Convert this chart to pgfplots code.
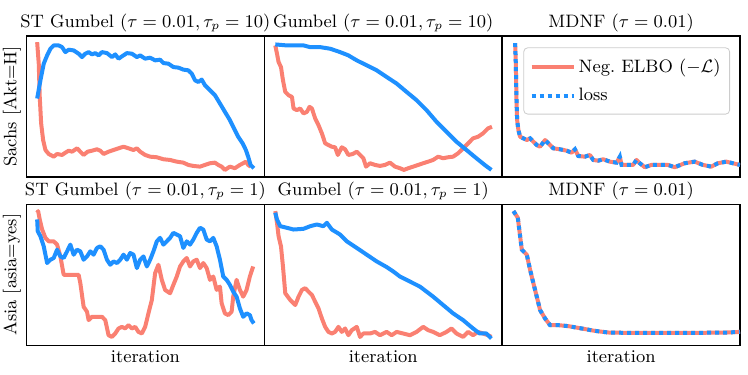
\documentclass[border=0pt]{standalone}
\usepackage{pgfplots}
\pgfplotsset{compat=1.18}
\usepgfplotslibrary{groupplots}

\definecolor{salmon}{RGB}{250,128,114}
\definecolor{dblue}{RGB}{30,144,255}

\pgfplotsset{
  panel/.style={
    width=119pt, height=70.5pt, scale only axis,
    xmin=0, xmax=238.5, ymin=0,
    xtick=\empty, ytick=\empty,
    axis line style={black, line width=0.7pt},
    every axis title/.style={at={(0.5,1)}, anchor=base, yshift=4.3pt},
    every axis x label/.style={at={(0.5,0)}, anchor=base, yshift=-8.8pt},
    every axis y label/.style={at={(0,0.5)}, anchor=base, rotate=90, yshift=5pt},
  },
  elbo/.style={salmon, line width=2pt, line join=round, no marks},
  loss/.style={dblue, line width=2pt, line join=round, no marks},
  lossdot/.style={dblue, line width=2pt, no marks, dash pattern=on 2pt off 2pt},
}

\begin{document}
\fontsize{9}{11}\selectfont
\begin{tikzpicture}
\begin{groupplot}[
  group style={group size=3 by 2, horizontal sep=0pt, vertical sep=13.75pt, group name=G},
  panel]

% row 1, column 1
\nextgroupplot[ymax=141.5, title={ST Gumbel ($\tau=0.01, \tau_p=10$)}, ylabel={Sachs [Akt=H]}]
\addplot[elbo] coordinates {
(10.7,135.3) (12.3,113.7) (13.3,80.3) (14.7,53.7) (16.7,37) (19,27) (22.3,23)
(27.3,20.3) (30.7,23) (35.7,22) (39,24.3) (42.3,26.3) (45.7,25.3) (50.7,28.7)
(54,25.3) (57.3,22) (61.3,25.3) (65.7,26.3) (70.7,27.7) (74,26.3) (77.3,23)
(82.3,25.3) (87.3,27) (92.3,28.7) (97.3,30.3) (102.3,28.7) (107.3,27) (110.7,28.7)
(114,25.3) (119,22) (124,20.3) (130.7,19.7) (137.3,17.7) (144,17) (150.7,15.3)
(157.3,14.3) (162.3,12) (167.3,11) (174,10.3) (179,12) (184,13.7) (189,14.3)
(192.3,12) (195.7,10.3) (199,7) (204,10.3) (209,8.7) (214,12) (217.3,13.7)
(220,15.3) (222.3,12) (224.7,10.3)};
\addplot[loss] coordinates {
(10.7,78.7) (14,97) (17.3,113.7) (20.7,122) (24,128.7) (27.3,132) (32.3,132)
(35.7,130.3) (39,125.3) (42.3,127.7) (47.3,127) (52.3,123.7) (55.7,120.3) (59,123.7)
(62.3,125.3) (65.7,123) (69,124.3) (72.3,122) (75.7,125.3) (80.7,124.3) (85.7,120.3)
(89,123) (92.3,118.7) (95.7,121) (100.7,124.3) (105.7,123.7) (110.7,120.3) (114,122)
(119,118.7) (124,119.7) (129,117) (134,117.7) (137.3,114.3) (142.3,113.7) (147.3,110.3)
(152.3,109.7) (157.3,107.7) (162.3,107) (165.7,103.7) (169,97) (172.3,95.3) (175.7,97.7)
(179,92) (184,87) (189,82) (194,73.7) (199,65.3) (204,57) (207.3,50.3) (212.3,40.3)
(216.7,33.7) (220,27) (222.3,20.3) (224.7,12) (228,8.7)};

% row 1, column 2
\nextgroupplot[ymax=141.5, title={Gumbel ($\tau=0.01, \tau_p=10$)}]
\addplot[elbo] coordinates {
(11,132) (12.7,123.7) (14.3,115.3) (16.7,110.3) (18.7,97) (21,85.3) (24.3,82)
(27.7,80.3) (29.3,68.7) (32.7,67) (36,68.7) (39.3,63.7) (42.7,65.3) (45.3,70.3)
(47.7,68.7) (51,58.7) (54.3,52) (57.7,43.7) (61,33.7) (64.3,32) (67.7,30.3)
(71,29.7) (73.7,22) (77.7,29.7) (81,27.7) (84.3,22) (88.7,23) (92.7,25.3)
(96,22) (99.3,18.7) (102,10.3) (106,13.7) (111,12) (116,11) (121,12) (126,14.3)
(131,10.3) (136,8.7) (140,7) (144.3,8.7) (149.3,10.3) (154.3,12) (159.3,13.7)
(164.3,15.3) (169.3,17) (174.3,20.3) (179.3,18.7) (184.3,19.7) (189.3,20.3)
(194.3,23.7) (197.7,27) (202.7,32) (209.3,38.7) (214.3,40.3) (219.3,43.7)
(224.3,48.7) (228.3,50.3)};
\addplot[loss] coordinates {
(11,133) (22.7,132) (39.3,132) (46,130.3) (56,130.3) (66,128.7) (76,125.3)
(84.3,122) (92.7,117) (102.7,112) (112.7,107) (122.7,100.3) (132.7,93.7)
(142.7,85.3) (152.7,77) (162.7,67) (172.7,55.3) (182.7,45.3) (192.7,35.3)
(202.7,27) (212.7,18.7) (221,12) (227.7,7)};

% row 1, column 3
\nextgroupplot[ymax=141.5, title={MDNF ($\tau=0.01$)},
  legend style={at={(0.958,0.919)}, anchor=north east, draw=black!20,
    rounded corners=2pt, fill=white, inner xsep=3pt, inner ysep=4pt,
    row sep=3.5pt, nodes={inner sep=1.5pt}},
  legend cell align=left,
  legend image code/.code={\draw[#1] (0pt,0pt) -- (21pt,0pt);}]
\addplot[elbo] coordinates {
(13,134.3) (13.7,113.7) (14.3,80.3) (15,57) (16.3,47) (18,40.3) (21.3,38.7)
(24.7,37) (28,38.7) (31.3,35.3) (34.7,32) (38,30.3) (43,37) (46.3,33.7)
(51.3,28.7) (58,27.7) (64.7,26.3) (69.7,24.3) (73,27.7) (76.3,21) (83,20.3)
(88,22) (91.3,17) (96.3,16.3) (101.3,17.7) (108,15.3) (114.7,14.3) (118,20.3)
(119.7,12) (126.3,12) (131.3,12) (134.7,17) (138,13.7) (143,9.7) (149.7,12)
(159.7,12) (166.3,12) (173,9.7) (183,13.7) (193,15.3) (201.3,12) (209.7,10.3)
(216.3,13.7) (224.7,15.3) (231.3,13.7) (238.5,12)};
\addlegendentry{Neg.\ ELBO ($-\mathcal{L}$)}
\addplot[lossdot] coordinates {
(13,134.3) (13.7,113.7) (14.3,80.3) (15,57) (16.3,47) (18,40.3) (21.3,38.7)
(24.7,37) (28,38.7) (31.3,35.3) (34.7,32) (38,30.3) (43,37) (46.3,33.7)
(51.3,28.7) (58,27.7) (64.7,26.3) (69.7,24.3) (73,27.7) (76.3,21) (83,20.3)
(88,22) (91.3,17) (96.3,16.3) (101.3,17.7) (108,15.3) (114.7,14.3) (118,20.3)
(119.7,12) (126.3,12) (131.3,12) (134.7,17) (138,13.7) (143,9.7) (149.7,12)
(159.7,12) (166.3,12) (173,9.7) (183,13.7) (193,15.3) (201.3,12) (209.7,10.3)
(216.3,13.7) (224.7,15.3) (231.3,13.7) (238.5,12)};
\addlegendentry{loss}

% row 2, column 1
\nextgroupplot[ymax=140, title={ST Gumbel ($\tau=0.01, \tau_p=1$)}, ylabel={Asia [asia=yes]}, xlabel={iteration}]
\addplot[elbo] coordinates {
(10.7,131.7) (11.7,133.3) (13.3,125) (15.7,115) (19,106.7) (22.3,103.3) (27.3,103.3)
(30.7,100) (34,88.3) (37.3,70) (42.3,70) (47.3,70) (52.3,70) (54,61.7) (57.3,38.3)
(60.7,33.3) (62.3,25) (65.7,28.3) (70.7,28.3) (75.7,28.3) (79,25) (82.3,10)
(85.7,8.3) (89,11.7) (92.3,16.7) (95.7,18.3) (99,16.7) (102.3,20) (105.7,16.7)
(109,18.3) (112.3,13.3) (115.7,11.7) (119,18.3) (122.3,31.7) (125.7,45) (129,71.7)
(132.3,80) (135.7,65) (139,55) (144,51.7) (147.3,60) (150.7,68.3) (154,78.3)
(157.3,83.3) (160.7,86.7) (164,78.3) (167.3,83.3) (170.7,85) (174,76.7) (177.3,81.7)
(180.7,76.7) (184,65) (187.3,68.3) (190.7,55) (194,58.3) (195.7,41.7) (199,31.7)
(202.3,30) (205.7,33.3) (207.3,48.3) (210.7,65) (214,55) (217.3,48.3) (220.7,55)
(224,68.3) (227.3,78.3)};
\addplot[loss] coordinates {
(10.7,125) (11.3,113.3) (14,108.3) (17.3,98.3) (20.7,81.7) (24,85) (27.3,86.7)
(30.7,95) (34,88.3) (37.3,86.7) (40.7,93.3) (44,100) (47.3,90) (50.7,95) (54,93.3)
(57.3,85) (60.7,88.3) (64,93.3) (67.3,90) (70.7,96.7) (74,98.3) (77.3,95) (80.7,85)
(84,80) (87.3,83.3) (90.7,81.7) (94,85) (97.3,90) (100.7,85) (104,91.7) (107.3,90)
(110.7,76.7) (114,85) (117.3,88.3) (120.7,78.3) (124,85) (127.3,93.3) (130.7,103.3)
(134,106.7) (137.3,100) (140.7,103.3) (144,106.7) (147.3,111.7) (150.7,110)
(154,108.3) (157.3,96.7) (160.7,103.3) (164,100) (167.3,105) (170.7,111.7)
(174,116.7) (177.3,115) (180.7,105) (184,103.3) (187.3,106.7) (190.7,98.3) (194,85)
(197.3,68.3) (200.7,65) (204,60) (207.3,53.3) (210.7,48.3) (214,36.7) (217.3,28.3)
(220.7,31.7) (224,30) (225.7,25) (228,21.7)};

% row 2, column 2
\nextgroupplot[ymax=140, title={Gumbel ($\tau=0.01, \tau_p=1$)}, xlabel={iteration}]
\addplot[elbo] coordinates {
(11,133.3) (12.7,121.7) (14.3,108.3) (16.7,98.3) (18.7,78.3) (21,51.7) (26,45)
(31,40) (34.3,48.3) (37.7,55) (41,56.7) (44.3,53.3) (47.7,50) (51,43.3) (54.3,36.7)
(57.7,26.7) (61,18.3) (64.3,13.3) (67.7,11.7) (71,13.3) (74.3,18.3) (77.7,13.3)
(81,16.7) (84.3,10) (87.7,15) (92.7,18.3) (96,8.3) (99.3,11.7) (106,11.7) (111,13.3)
(116,10) (122.7,13.3) (127.7,10) (132.7,13.3) (139.3,11.7) (146,10) (152.7,13.3)
(159.3,18.3) (164.3,15) (169.3,13.3) (176,10) (182.7,13.3) (187.7,16.7) (192.7,11.7)
(199.3,8.3) (204.3,13.3) (209.3,10) (214.3,13.3) (219.3,11.7) (224.3,10) (227.7,8.3)};
\addplot[loss] coordinates {
(11,131.7) (12.7,125) (16,118.3) (22.7,116.7) (29.3,115) (39.3,115.7) (46,118.3)
(52.7,120) (59.3,118.3) (62.7,121.7) (67.7,115) (76,110) (82.7,103.3) (92.7,96.7)
(102.7,90) (112.7,83.3) (122.7,77.7) (129.3,73.3) (136,68.3) (146,63.3) (156,58.3)
(162.7,53.3) (169.3,48.3) (179.3,40) (189.3,31.7) (199.3,25) (209.3,16.7) (216,11.7)
(222.7,11.7) (227.7,6.7)};

% row 2, column 3
\nextgroupplot[ymax=140, title={MDNF ($\tau=0.01$)}, xlabel={iteration}]
\addplot[elbo] coordinates {
(11.3,133.3) (15.7,126.7) (18,108.3) (19.7,95) (24.7,90) (28,75) (31.3,61.7)
(34.7,48.3) (38,35) (43,26.7) (48,20) (56.3,20) (66.3,19) (79.7,16.7) (93,14.3)
(106.3,12.7) (126.3,12.3) (159.7,12.3) (193,12.3) (226.3,12.7) (238.5,13.3)};
\addplot[lossdot] coordinates {
(11.3,133.3) (15.7,126.7) (18,108.3) (19.7,95) (24.7,90) (28,75) (31.3,61.7)
(34.7,48.3) (38,35) (43,26.7) (48,20) (56.3,20) (66.3,19) (79.7,16.7) (93,14.3)
(106.3,12.7) (126.3,12.3) (159.7,12.3) (193,12.3) (226.3,12.7) (238.5,13.3)};
\end{groupplot}
\pgfresetboundingbox
\path ([shift={(-13.25pt,-14.5pt)}]G c1r2.south west) rectangle ([shift={(4pt,18pt)}]G c3r1.north east);
\end{tikzpicture}
\end{document}
